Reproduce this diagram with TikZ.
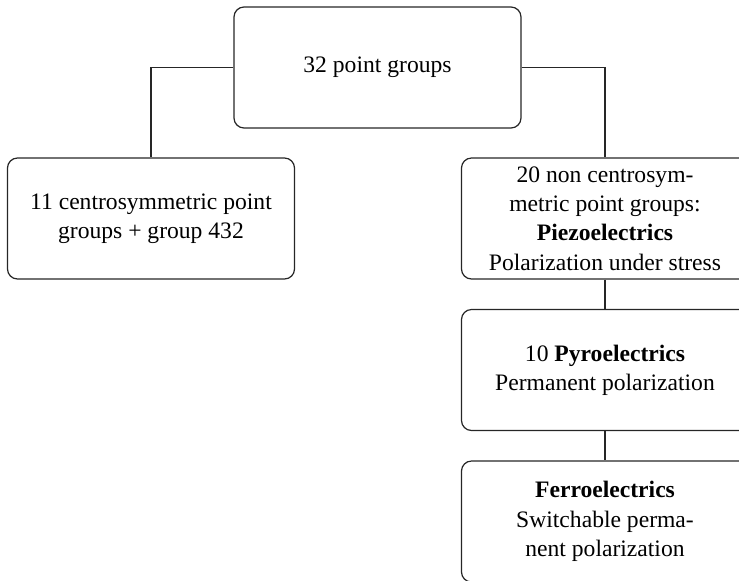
\documentclass[tikz,border=0pt]{standalone}
\usepackage{fontspec}
\setmainfont{Liberation Serif}
\begin{document}
\begin{tikzpicture}[x=0.5pt,y=-0.5pt,
  box/.style={draw=black!85,line width=0.6pt,rounded corners=5pt,minimum width=143.5pt,minimum height=60.5pt,align=center,inner sep=0pt,font=\fontsize{11.8}{14.6}\selectfont},
  link/.style={draw=black!85,line width=0.6pt}]
\useasboundingbox (0,0) rectangle (739,580);
\node[box] (top) at (377.5,67.5) {32 point groups};
\node[box] (left) at (151,218.5) {11 centrosymmetric point\\groups + group 432};
\node[box] (r1) at (605,218.5) {20 non centrosym-\\metric point groups:\\\textbf{Piezoelectrics}\\Polarization under stress};
\node[box] (r2) at (605,370) {10 \textbf{Pyroelectrics}\\Permanent polarization};
\node[box] (r3) at (605,521.5) {\textbf{Ferroelectrics}\\Switchable perma-\\nent polarization};
\draw[link] (top.west) -| (left.north);
\draw[link] (top.east) -| (r1.north);
\draw[link] (r1.south) -- (r2.north);
\draw[link] (r2.south) -- (r3.north);
\end{tikzpicture}
\end{document}
